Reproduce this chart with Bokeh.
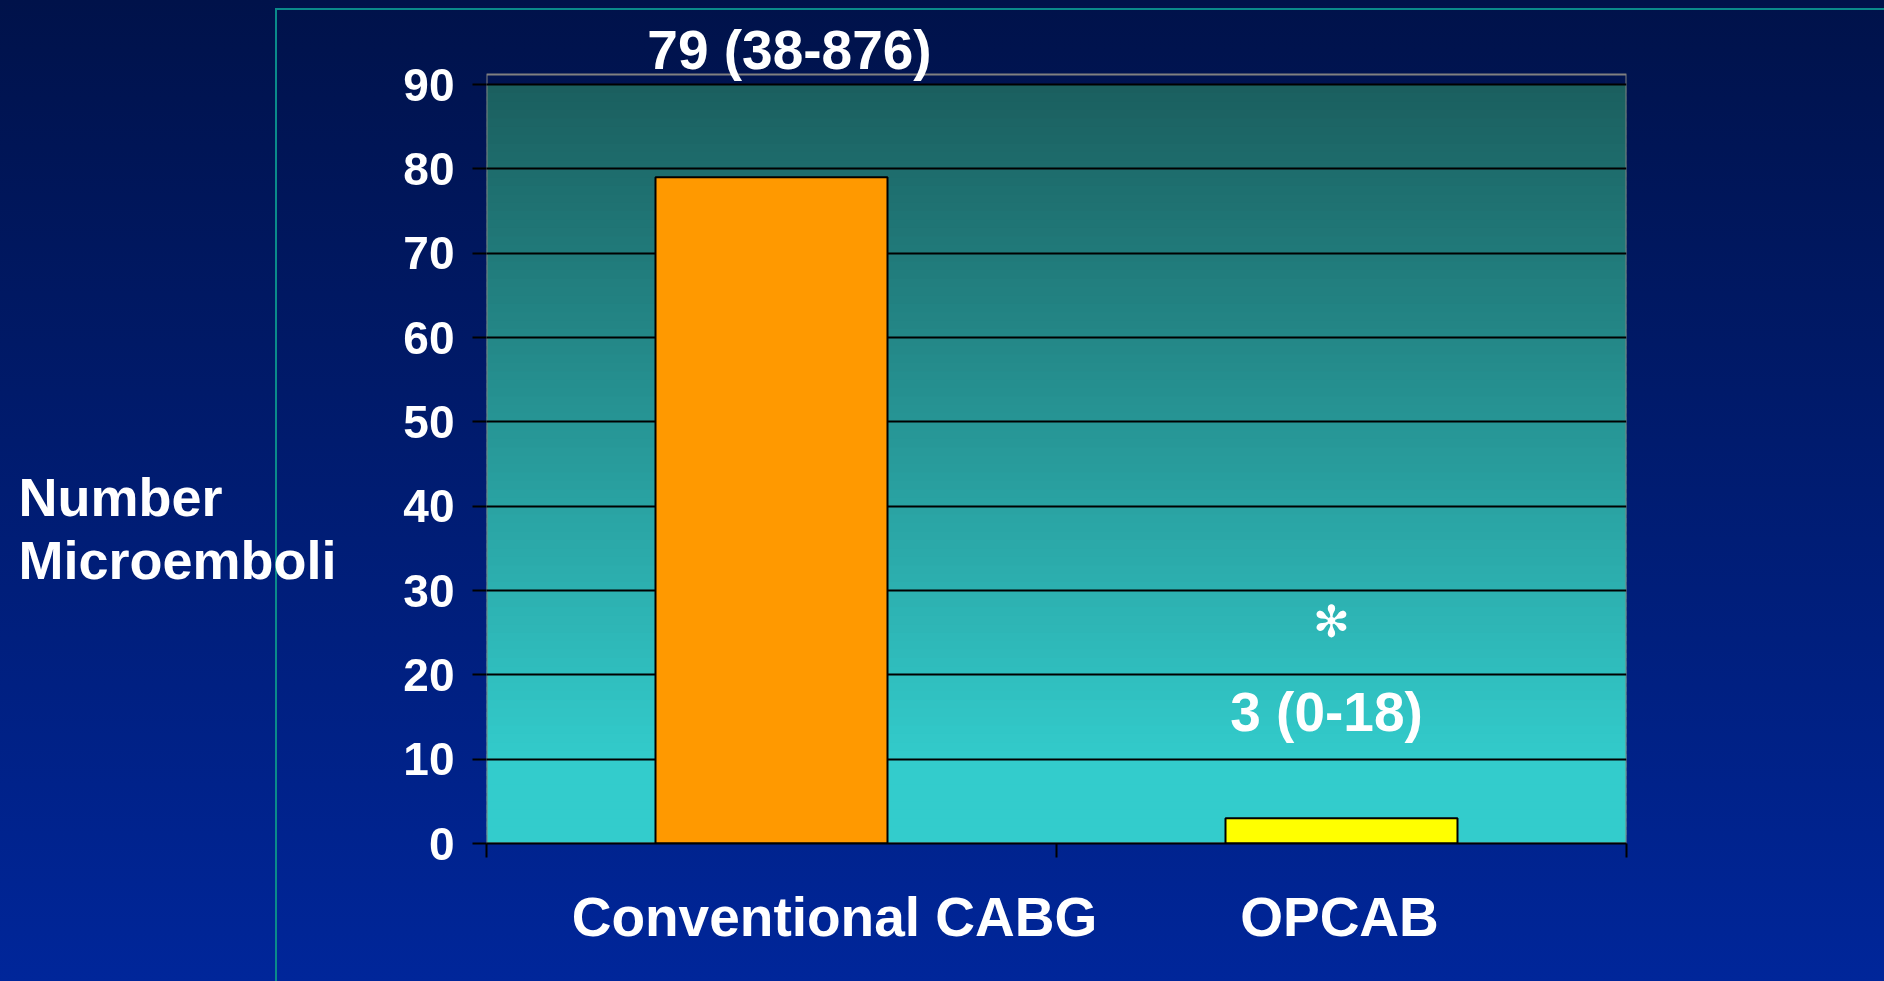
import numpy as np
from bokeh.plotting import figure
from bokeh.layouts import row
from bokeh.models import (Range1d, FixedTicker, Label, GlobalInlineStyleSheet)
from bokeh.embed import file_html
from bokeh.resources import INLINE

# ---------------- data ----------------
categories = ["Conventional CABG", "OPCAB"]
medians = [79, 3]
range_texts = ["79 (38-876)", "3 (0-18)"]
bar_colors = ["#ff9900", "#ffff00"]
significance = ["", "\u273b"]
y_ticks = [0, 10, 20, 30, 40, 50, 60, 70, 80, 90]
y_label_lines = ["Number", "Microemboli"]

# ---------------- layout / styles ----------------
FONT = "Liberation Sans"
PAGE_W, PAGE_H = 1884, 981
LEFT_W = 380                      # width of the side panel holding the y title
MAIN_W = PAGE_W - LEFT_W
FRAME_L, FRAME_R = 486, 1626      # page px of plot frame
FRAME_T = 10
Y0_PX, Y90_PX = 843, 84           # page px of value 0 and 90
n = len(categories)
wall_top = y_ticks[-1]
ppu = (Y0_PX - Y90_PX) / wall_top            # px per value unit
ppx = (FRAME_R - FRAME_L) / n                 # px per category
centers = [i + 0.5 for i in range(n)]

css = """
html, body { margin: 0; padding: 0; overflow: hidden;
  background: linear-gradient(to bottom, #00124a 0%, #00269a 100%) fixed; min-height: 100%; }
body::before { content: ""; position: fixed; left: 275px; top: 8px; right: -10px; bottom: -10px;
  border-left: 2px solid #0a8a8a; border-top: 2px solid #0a8a8a; pointer-events: none; }
"""

txt = dict(text_font=FONT, text_font_style="bold", text_color="white")

y_range = Range1d(0, (Y0_PX - FRAME_T) / ppu)

# ---------------- left panel: y title ----------------
left = figure(width=LEFT_W, height=PAGE_H, x_range=Range1d(0, LEFT_W), y_range=y_range,
              output_backend="svg", toolbar_location=None, title=None,
              x_axis_location=None, y_axis_location=None,
              min_border_left=0, min_border_right=0,
              min_border_top=FRAME_T, min_border_bottom=PAGE_H - Y0_PX)
left.border_fill_alpha = 0
left.background_fill_alpha = 0
left.outline_line_color = None
left.grid.visible = False
left.stylesheets = [GlobalInlineStyleSheet(css=css)]
for line, yv in zip(y_label_lines, [41.1, 33.6]):
    left.add_layout(Label(x=18, y=yv, text=line, text_align="left", text_baseline="alphabetic",
                          text_font_size="54px", **txt))

# ---------------- main chart ----------------
p = figure(width=MAIN_W, height=PAGE_H, x_range=Range1d(0, n), y_range=y_range,
           output_backend="svg", toolbar_location=None, title=None,
           min_border_left=FRAME_L - LEFT_W, min_border_right=PAGE_W - FRAME_R,
           min_border_top=FRAME_T, min_border_bottom=PAGE_H - Y0_PX)
p.border_fill_alpha = 0
p.background_fill_alpha = 0
p.outline_line_color = None

# plot wall gradient (decorative)
top_rgb = np.array([27, 95, 95])
bot_rgb = np.array([51, 204, 204])
steps = np.arange(0, wall_top, 1.0)
cols = []
for s in steps:
    t = min(max((s + 0.5 - 10) / (wall_top - 10), 0), 1)
    c = (bot_rgb + (top_rgb - bot_rgb) * t).astype(int)
    cols.append("#%02x%02x%02x" % tuple(c))
tops = np.minimum(steps + 1.6, wall_top)
p.quad(left=0, right=n, bottom=steps, top=tops, fill_color=cols, line_color=None, level="image")
# wall outline (grey box slightly taller than the top gridline)
p.quad(left=0, right=n, bottom=0, top=wall_top + 10 / ppu, fill_color=None,
       line_color="#808080", line_width=2, level="image")

# bars
p.vbar(x=centers, top=medians, width=0.407, fill_color=bar_colors,
       line_color="black", line_width=2)

# grid
p.xgrid.visible = False
p.ygrid.ticker = FixedTicker(ticks=y_ticks)
p.ygrid.grid_line_color = "black"
p.ygrid.grid_line_width = 2

# y axis
ya = p.yaxis[0]
ya.ticker = FixedTicker(ticks=y_ticks)
ya.axis_line_color = None
ya.major_tick_line_color = "black"
ya.major_tick_line_width = 2
ya.major_tick_out = 14
ya.major_tick_in = 0
ya.minor_tick_line_color = None
ya.major_label_text_font = FONT
ya.major_label_text_font_style = "bold"
ya.major_label_text_font_size = "46px"
ya.major_label_text_color = "white"
ya.major_label_standoff = 18

# x axis: category names as labels, boundary ticks as minor ticks
cat_dx_px = [63, -2]
label_ticks = [round(c + dx / ppx, 4) for c, dx in zip(centers, cat_dx_px)]
xa = p.xaxis[0]
xa.ticker = FixedTicker(ticks=label_ticks, minor_ticks=list(range(n + 1)))
xa.major_label_overrides = {t: c for t, c in zip(label_ticks, categories)}
xa.axis_line_color = "black"
xa.axis_line_width = 2
xa.major_tick_line_color = None
xa.major_tick_out = 0
xa.major_tick_in = 0
xa.minor_tick_line_color = "black"
xa.minor_tick_line_width = 2
xa.minor_tick_out = 14
xa.minor_tick_in = 0
xa.major_label_text_font = FONT
xa.major_label_text_font_style = "bold"
xa.major_label_text_font_size = "55px"
xa.major_label_text_color = "white"
xa.major_label_standoff = 28

# median (range) labels
val_dx = [18, -15]
val_dy = [127, 106]
for xc, v, t, dx, dy in zip(centers, medians, range_texts, val_dx, val_dy):
    p.add_layout(Label(x=xc, y=v, text=t, x_offset=dx, y_offset=dy, text_align="center",
                       text_baseline="alphabetic", text_font_size="55px", **txt))

# significance marker
for xc, v, s in zip(centers, medians, significance):
    if s:
        p.add_layout(Label(x=xc, y=v, text=s, x_offset=-10, y_offset=197, text_align="center",
                           text_baseline="middle", text_font="DejaVu Sans",
                           text_font_size="44px", text_color="white"))

layout = row(left, p, spacing=0)
open("out.html", "w").write(file_html(layout, INLINE))
